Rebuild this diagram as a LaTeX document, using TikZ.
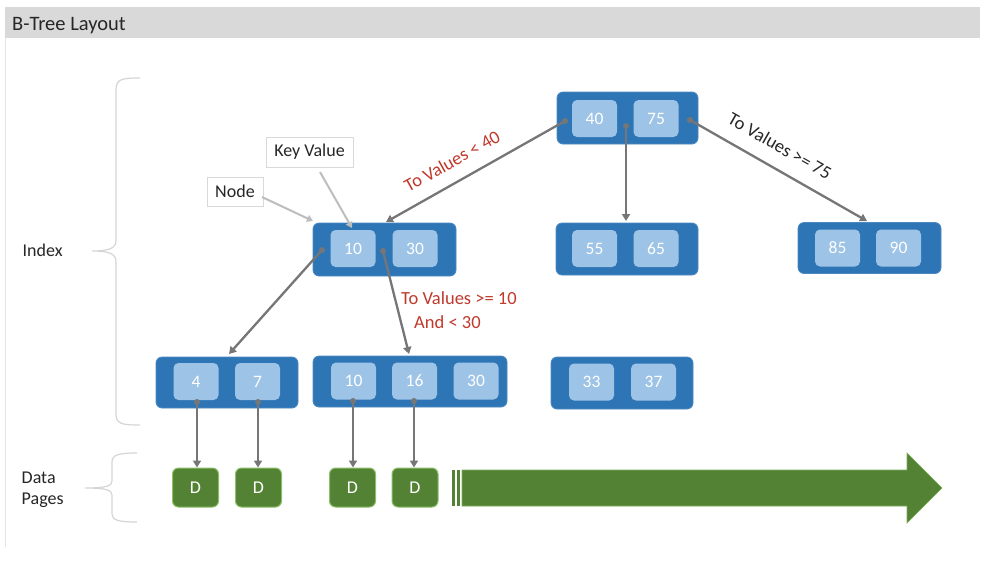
\documentclass[tikz,border=0pt]{standalone}
\usepackage{fontspec}
\setmainfont{Carlito}
\usetikzlibrary{arrows.meta}
\definecolor{nodeblue}{HTML}{2E75B6}
\definecolor{keyblue}{HTML}{9DC3E6}
\definecolor{dgreen}{HTML}{548235}
\definecolor{dgreenedge}{HTML}{8CBF6A}
\definecolor{ptrgray}{HTML}{767676}
\definecolor{lightptr}{HTML}{BDBDBD}
\definecolor{lblred}{HTML}{C0392B}
\definecolor{bargray}{HTML}{D9D9D9}
\definecolor{bracegray}{HTML}{D5D5D5}
\definecolor{txt}{HTML}{262626}
\tikzset{
 bnode/.style={fill=nodeblue, draw=nodeblue!85!white, line width=0.8pt, rounded corners=6pt, inner sep=0pt},
 keybox/.style={fill=keyblue, rounded corners=5pt, minimum width=45pt, minimum height=37pt, inner sep=0pt, text=white, font=\fontsize{17.5}{19}\selectfont},
 dbox/.style={fill=dgreen, draw=dgreenedge, line width=1pt, rounded corners=6pt, minimum width=46pt, minimum height=39pt, inner sep=0pt, text=white, font=\fontsize{18}{20}\selectfont},
 ptr/.style={draw=ptrgray, line width=2.3pt, -{Triangle[length=7pt,width=8pt]}},
 hint/.style={draw=lightptr, line width=2pt, -{Triangle[length=6pt,width=7pt]}},
 lbl/.style={draw=bargray, fill=white, line width=0.8pt, inner sep=0pt, text=txt, font=\fontsize{18}{20}\selectfont},
 redlbl/.style={text=lblred, font=\fontsize{18.5}{20}\selectfont, inner sep=0pt},
 blacklbl/.style={text=txt, font=\fontsize{18.5}{20}\selectfont, inner sep=0pt},
 sidelbl/.style={text=txt, font=\fontsize{18}{20}\selectfont, inner sep=0pt, anchor=base west},
 dotc/.style={circle, fill=ptrgray, inner sep=0pt, minimum size=6pt},
 bracket/.style={draw=bracegray, line width=1.2pt},
}
\begin{document}
\begin{tikzpicture}[x=1pt,y=-1pt]
\useasboundingbox (0,0) rectangle (984,566);
\fill[white] (0,0) rectangle (984,566);
% title bar and frame
\fill[bargray] (5,7) rectangle (980,38);
\draw[draw=bargray!70!white, line width=0.8pt] (5,38) -- (5,547);
\node[anchor=base west, text=txt, font=\fontsize{20.5}{22}\selectfont, inner sep=0pt] (title) at (12,30) {B-Tree Layout};
% side labels and braces
\node[sidelbl] (idx) at (22.5,256) {Index};
\node[sidelbl] (data) at (21.5,483) {Data};
\node[sidelbl] (pages) at (21.5,504) {Pages};
\draw[bracket] (140,78) .. controls (122,78) and (116,79) .. (116,90) -- (116,240)
  .. controls (116,248) and (110,251) .. (92,251) .. controls (110,251) and (116,254) .. (116,262)
  -- (116,414) .. controls (116,424) and (122,425) .. (140,425);
\draw[bracket] (137,453) .. controls (118,453) and (112,455) .. (112,462) -- (112,481)
  .. controls (112,486) and (106,488) .. (85,488) .. controls (106,488) and (112,490) .. (112,495)
  -- (112,514) .. controls (112,520) and (118,522) .. (137,522);
% index nodes
\node[bnode, minimum width=141pt, minimum height=52pt] (root) at (627.5,118) {};
\node[keybox] (k40) at (594.5,118.5) {40};
\node[keybox] (k75) at (656,118.5) {75};
\node[bnode, minimum width=143pt, minimum height=53pt] (n1) at (384.5,249.5) {};
\node[keybox] (k10) at (353,248.5) {10};
\node[keybox] (k30) at (415,248.5) {30};
\node[bnode, minimum width=142pt, minimum height=52pt] (n2) at (627,249) {};
\node[keybox] (k55) at (594.5,248.5) {55};
\node[keybox] (k65) at (656,248.5) {65};
\node[bnode, minimum width=143pt, minimum height=51pt] (n3) at (869.5,248) {};
\node[keybox] (k85) at (837.5,248) {85};
\node[keybox] (k90) at (898.5,248) {90};
% leaves
\node[bnode, minimum width=142pt, minimum height=51pt] (l1) at (227,382.5) {};
\node[keybox] (k4) at (196,381.5) {4};
\node[keybox] (k7) at (257.5,381.5) {7};
\node[bnode, minimum width=194pt, minimum height=51pt] (l2) at (410,381.5) {};
\node[keybox] (k10b) at (353.5,381) {10};
\node[keybox] (k16) at (414.5,381) {16};
\node[keybox] (k30b) at (476,381) {30};
\node[bnode, minimum width=142pt, minimum height=52pt] (l3) at (622,383) {};
\node[keybox] (k33) at (591.5,382) {33};
\node[keybox] (k37) at (653.5,382) {37};
% data pages
\node[dbox] (d1) at (195.5,487.5) {D};
\node[dbox] (d2) at (258.5,487.5) {D};
\node[dbox] (d3) at (352.5,487.5) {D};
\node[dbox] (d4) at (415,487.5) {D};
% green arrow
\fill[dgreen] (452,470) rectangle (455,506);
\fill[dgreen] (456.5,470) rectangle (460,506);
\filldraw[fill=dgreen, draw=dgreenedge!70!dgreen, line width=0.6pt] (462,470) -- (907,470) -- (907,453) -- (942,488) -- (907,523) -- (907,506) -- (462,506) -- cycle;
% pointer start dots and ends
\node[dotc] (s1) at (565,121) {};
\node[dotc] (s2) at (626,126) {};
\node[dotc] (s3) at (690,120) {};
\node[dotc] (s4) at (322,250) {};
\node[dotc] (s5) at (383,251) {};
\node[dotc] (s6) at (197,402) {};
\node[dotc] (s7) at (258,402) {};
\node[dotc] (s8) at (353,401) {};
\node[dotc] (s9) at (414,401) {};
\coordinate (e1) at (386,222);
\coordinate (e2) at (626,221);
\coordinate (e3) at (867,221);
\coordinate (e4) at (229,354);
\coordinate (e5) at (409,354);
\draw[ptr] (s1.center) -- (e1);
\draw[ptr] (s2.center) -- (e2);
\draw[ptr] (s3.center) -- (e3);
\draw[ptr] (s4.center) -- (e4);
\draw[ptr] (s5.center) -- (e5);
\draw[ptr] (s6.center) -- (d1.north -| s6);
\draw[ptr] (s7.center) -- (d2.north -| s7);
\draw[ptr] (s8.center) -- (d3.north -| s8);
\draw[ptr] (s9.center) -- (d4.north -| s9);
% callouts
\node[lbl, minimum width=87pt, minimum height=30pt] (keyv) at (309.5,152) {Key Value};
\node[lbl, minimum width=56pt, minimum height=29pt] (nodel) at (235,191.5) {Node};
\coordinate (nodetip) at (313,221);
\coordinate (keytip) at (352,228);
\coordinate (nodestart) at (262,197);
\coordinate (keystart) at (320,172);
\draw[hint] (nodestart) -- (nodetip);
\draw[hint] (keystart) -- (keytip);
% edge labels
\node[redlbl, rotate=29.3] (lt40) at (452,161) {To Values < 40};
\node[blacklbl, rotate=-29.7] (ge75) at (780,146) {To Values >= 75};
\node[redlbl, anchor=base west] (ge10) at (401,304) {To Values >= 10};
\node[redlbl, anchor=base west] (lt30) at (414,328) {And < 30};
\end{tikzpicture}
\end{document}
